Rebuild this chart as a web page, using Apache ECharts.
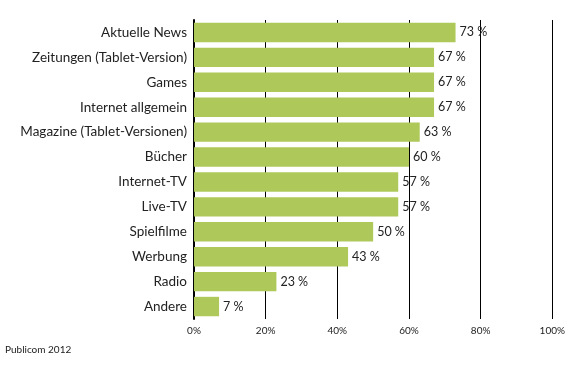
<!DOCTYPE html>
<html><head><meta charset="utf-8">
<script src="https://cdn.jsdelivr.net/npm/echarts@6/dist/echarts.min.js"></script>
<style>html,body{margin:0;padding:0;background:#fff}#c{width:568px;height:378px}</style>
</head><body><div id="c"></div>
<script>
const categories = ["Aktuelle News","Zeitungen (Tablet-Version)","Games","Internet allgemein","Magazine (Tablet-Versionen)","Bücher","Internet-TV","Live-TV","Spielfilme","Werbung","Radio","Andere"];
const values = [73,67,67,67,63,60,57,57,50,43,23,7];
const tickLabels = ["0%","20%","40%","60%","80%","100%"];
const source = "Publicom 2012";

const chart = echarts.init(document.getElementById('c'), null, {renderer:'canvas'});
const font = 'Lato, "Open Sans", sans-serif';
chart.setOption({
  animation:false,
  grid:{left:194,right:15,top:20,bottom:59},
  graphic:[{type:'text',left:5,top:345,style:{text:source,font:'10px '+font,fill:'#222'}}],
  xAxis:{type:'value',min:0,max:100,interval:20,
    axisLine:{show:false},axisTick:{show:false},
    axisLabel:{formatter:(v)=>tickLabels[v/20],color:'#222',fontFamily:font,fontSize:10,margin:7},
    splitLine:{show:true,lineStyle:{color:'#000',width:1}}},
  yAxis:{type:'category',inverse:true,data:categories,
    axisLine:{show:true,lineStyle:{color:'#000',width:2}},axisTick:{show:false},
    axisLabel:{color:'#222',fontFamily:font,fontSize:13.5,margin:7}},
  series:[{type:'bar',data:values,barCategoryGap:'22%',
    itemStyle:{color:'#afc85a'},
    label:{show:true,position:'right',formatter:'{c} %',color:'#222',fontFamily:font,fontSize:12.5,distance:4}}]
});
</script></body></html>
